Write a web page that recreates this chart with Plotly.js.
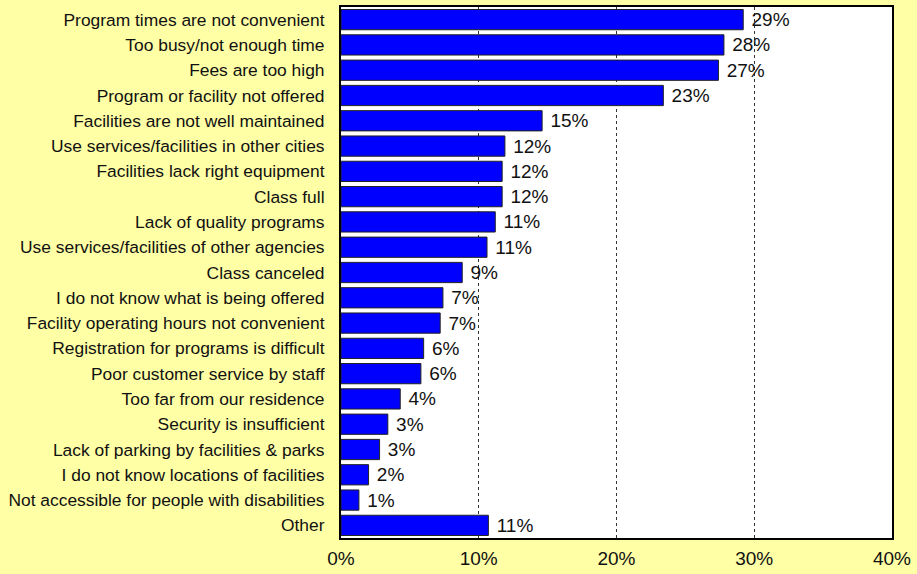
<!DOCTYPE html>
<html>
<head>
<meta charset="utf-8">
<script src="https://cdn.plot.ly/plotly-3.0.1.min.js"></script>
<style>html,body{margin:0;padding:0;background:#FFFFA6;}</style>
</head>
<body>
<div id="chart" style="width:917px;height:574px;"></div>
<script>
const categories = [
  "Program times are not convenient",
  "Too busy/not enough time",
  "Fees are too high",
  "Program or facility not offered",
  "Facilities are not well maintained",
  "Use services/facilities in other cities",
  "Facilities lack right equipment",
  "Class full",
  "Lack of quality programs",
  "Use services/facilities of other agencies",
  "Class canceled",
  "I do not know what is being offered",
  "Facility operating hours not convenient",
  "Registration for programs is difficult",
  "Poor customer service by staff",
  "Too far from our residence",
  "Security is insufficient",
  "Lack of parking by facilities & parks",
  "I do not know locations of facilities",
  "Not accessible for people with disabilities",
  "Other"
];
const values = [29.2, 27.8, 27.4, 23.4, 14.6, 11.9, 11.7, 11.7, 11.2, 10.6, 8.8, 7.4, 7.2, 6.0, 5.8, 4.3, 3.4, 2.8, 2.0, 1.3, 10.7];
const valueLabels = ["29%","28%","27%","23%","15%","12%","12%","12%","11%","11%","9%","7%","7%","6%","6%","4%","3%","3%","2%","1%","11%"];
const tickVals = [0, 10, 20, 30, 40];
const tickText = ["0%","10%","20%","30%","40%"];

const trace = {
  type: 'bar',
  orientation: 'h',
  y: categories,
  x: values,
  text: valueLabels,
  texttemplate: '\u00a0%{text}',
  textposition: 'outside',
  constraintext: 'none',
  cliponaxis: false,
  textfont: {family: 'Liberation Sans, Arial, sans-serif', size: 19, color: '#111'},
  marker: {color: '#0000FF', line: {color: '#222', width: 1}},
  width: 0.8,
  hoverinfo: 'none'
};

const layout = {
  width: 917, height: 574,
  paper_bgcolor: '#FFFFA6',
  plot_bgcolor: '#FFFFFF',
  margin: {l: 341, r: 25, t: 7, b: 36, pad: 0},
  showlegend: false,
  font: {family: 'Liberation Sans, Arial, sans-serif', color: '#111'},
  xaxis: {
    range: [0, 40],
    tickvals: tickVals,
    ticktext: tickText,
    tickfont: {size: 19},
    showgrid: true,
    gridcolor: '#333',
    gridwidth: 1,
    griddash: 'dot',
    zeroline: false,
    showline: true,
    linecolor: '#000',
    linewidth: 2,
    mirror: true,
    ticks: '',
    ticklabelstandoff: 2,
    fixedrange: true
  },
  yaxis: {
    autorange: 'reversed',
    tickfont: {size: 17.4},
    showgrid: false,
    zeroline: false,
    showline: true,
    linecolor: '#000',
    linewidth: 2,
    mirror: true,
    ticks: '',
    ticklabelstandoff: 11,
    fixedrange: true
  }
};

Plotly.newPlot('chart', [trace], layout, {displayModeBar: false, staticPlot: true});
</script>
</body>
</html>
